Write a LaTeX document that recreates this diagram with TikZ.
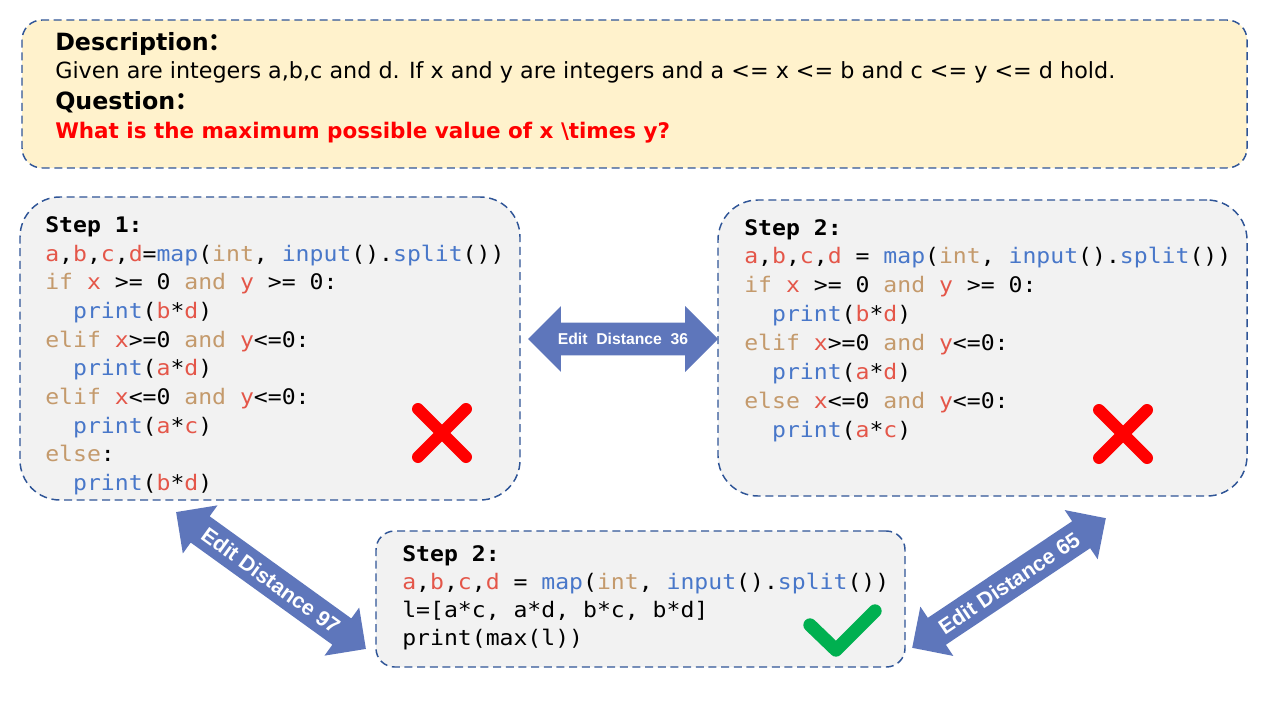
\documentclass[tikz,border=0pt]{standalone}
\usepackage{fontspec}
\setmainfont{DejaVu Sans}
\newfontfamily\cjkfont{Noto Sans CJK SC}
\newfontfamily\codefont[FakeStretch=1.08]{DejaVu Sans Mono}
\newfontfamily\arrowfont{Liberation Sans}
\usetikzlibrary{shapes.arrows}
\definecolor{boxborder}{HTML}{2F5597}
\definecolor{yellowfill}{HTML}{FFF2CC}
\definecolor{grayfill}{HTML}{F2F2F2}
\definecolor{arrowblue}{HTML}{5E76BB}
\definecolor{cvarcol}{HTML}{E45649}
\definecolor{ckwcol}{HTML}{C49A6C}
\definecolor{cfncol}{HTML}{4877C9}
\definecolor{xred}{HTML}{FF0000}
\definecolor{okgreen}{HTML}{00B050}
\newcommand\cvar[1]{\textcolor{cvarcol}{#1}}
\newcommand\ckw[1]{\textcolor{ckwcol}{#1}}
\newcommand\cfn[1]{\textcolor{cfncol}{#1}}
\newcommand\cind{\hphantom{xx}}
\newcommand\codelines[1]{\baselineskip=#1\relax\lineskiplimit=-100pt\lineskip=0pt\relax}
\tikzset{
  panel/.style={draw=boxborder, line width=1.1pt, dash pattern=on 6pt off 3.5pt},
  codetext/.style={anchor=base west, inner sep=0pt, font=\codefont\fontsize{16.05}{20}\selectfont},
  editarrow/.style={shape=double arrow, fill=arrowblue, draw=none, text=white, inner xsep=0pt},
  crossmark/.style={draw=xred, line width=9pt, line cap=round},
  checkmark/.style={draw=okgreen, line width=10pt, line cap=round, line join=round},
}
\begin{document}
\begin{tikzpicture}[x=0.75pt, y=-0.75pt]
\useasboundingbox (0,0) rectangle (1280,720);
% panels
\node[panel, fill=yellowfill, rounded corners=15pt, minimum width=1225*0.75pt, minimum height=148*0.75pt] (top) at (634.5,94) {};
\node[panel, fill=grayfill, rounded corners=30pt, minimum width=500*0.75pt, minimum height=303*0.75pt] (left) at (270,348.5) {};
\node[panel, fill=grayfill, rounded corners=30pt, minimum width=529*0.75pt, minimum height=296*0.75pt] (right) at (982.5,348) {};
\node[panel, fill=grayfill, rounded corners=14pt, minimum width=529*0.75pt, minimum height=136*0.75pt] (bottom) at (640.5,599) {};
% top texts
\node[anchor=base west, inner sep=0pt, font=\bfseries\fontsize{17.8}{20}\selectfont] (desc) at (55,51) {Description{\cjkfont ：}};
\node[anchor=base west, inner sep=0pt, font=\fontsize{16.7}{18}\selectfont] (given) at (55,79) {Given are integers a,b,c and d. If x and y are integers and a <= x <= b and c <= y <= d hold.};
\node[anchor=base west, inner sep=0pt, font=\bfseries\fontsize{17.8}{20}\selectfont] (quest) at (55,110) {Question{\cjkfont ：}};
\node[anchor=base west, inner sep=0pt, text=xred, font=\bfseries\fontsize{16.1}{18}\selectfont] (qtext) at (55,139) {What is the maximum possible value of x \textbackslash times y?};
% code left
\node[codetext] (code1) at (45,232.5) {\vtop{\codelines{21.5pt}
\hbox{\textbf{Step 1:}}
\hbox{\cvar{a},\cvar{b},\cvar{c},\cvar{d}=\cfn{map}(\ckw{int}, \cfn{input}().\cfn{split}())}
\hbox{\ckw{if} \cvar{x} >= 0 \ckw{and} \cvar{y} >= 0:}
\hbox{\cind\cfn{print}(\cvar{b}*\cvar{d})}
\hbox{\ckw{elif} \cvar{x}>=0 \ckw{and} \cvar{y}<=0:}
\hbox{\cind\cfn{print}(\cvar{a}*\cvar{d})}
\hbox{\ckw{elif} \cvar{x}<=0 \ckw{and} \cvar{y}<=0:}
\hbox{\cind\cfn{print}(\cvar{a}*\cvar{c})}
\hbox{\ckw{else}:}
\hbox{\cind\cfn{print}(\cvar{b}*\cvar{d})}
}};
% code right
\node[codetext] (code2) at (744,235) {\vtop{\codelines{21.7pt}
\hbox{\textbf{Step 2:}}
\hbox{\cvar{a},\cvar{b},\cvar{c},\cvar{d} = \cfn{map}(\ckw{int}, \cfn{input}().\cfn{split}())}
\hbox{\ckw{if} \cvar{x} >= 0 \ckw{and} \cvar{y} >= 0:}
\hbox{\cind\cfn{print}(\cvar{b}*\cvar{d})}
\hbox{\ckw{elif} \cvar{x}>=0 \ckw{and} \cvar{y}<=0:}
\hbox{\cind\cfn{print}(\cvar{a}*\cvar{d})}
\hbox{\ckw{else} \cvar{x}<=0 \ckw{and} \cvar{y}<=0:}
\hbox{\cind\cfn{print}(\cvar{a}*\cvar{c})}
}};
% code bottom
\node[codetext] (code3) at (402,561) {\vtop{\codelines{21pt}
\hbox{\textbf{Step 2:}}
\hbox{\cvar{a},\cvar{b},\cvar{c},\cvar{d} = \cfn{map}(\ckw{int}, \cfn{input}().\cfn{split}())}
\hbox{l=[a*c, a*d, b*c, b*d]}
\hbox{print(max(l))}
}};
% edit distance arrows
\node[editarrow, minimum height=190*0.75pt, double arrow head extend=12.4pt, inner ysep=7.8pt, text height=8.4pt, text depth=0pt, font=\arrowfont\bfseries\fontsize{11.8}{13}\selectfont] (ed36) at (623,339) {Edit\ \ Distance\ \ 36};
\node[editarrow, rotate=-35.8, minimum height=234*0.75pt, double arrow head extend=10.1pt, inner ysep=6.2pt, text height=11.5pt, text depth=0pt, font=\arrowfont\bfseries\fontsize{16}{18}\selectfont] (ed97) at (271,580.5) {Edit Distance 97};
\node[editarrow, rotate=33.8, minimum height=233*0.75pt, double arrow head extend=10.1pt, inner ysep=6.2pt, text height=11.5pt, text depth=0pt, font=\arrowfont\bfseries\fontsize{16}{18}\selectfont] (ed65) at (1009,583) {Edit Distance 65};
% marks
\coordinate (x1a) at (418,409); \coordinate (x1b) at (466,457);
\coordinate (x1c) at (466,409); \coordinate (x1d) at (418,457);
\draw[crossmark] (x1a) -- (x1b);
\draw[crossmark] (x1c) -- (x1d);
\coordinate (x2a) at (1099,410); \coordinate (x2b) at (1147,458);
\coordinate (x2c) at (1147,410); \coordinate (x2d) at (1099,458);
\draw[crossmark] (x2a) -- (x2b);
\draw[crossmark] (x2c) -- (x2d);
\coordinate (ck1) at (810,625); \coordinate (ck2) at (836,650); \coordinate (ck3) at (875,611);
\draw[checkmark] (ck1) -- (ck2) -- (ck3);
\end{tikzpicture}
\end{document}
